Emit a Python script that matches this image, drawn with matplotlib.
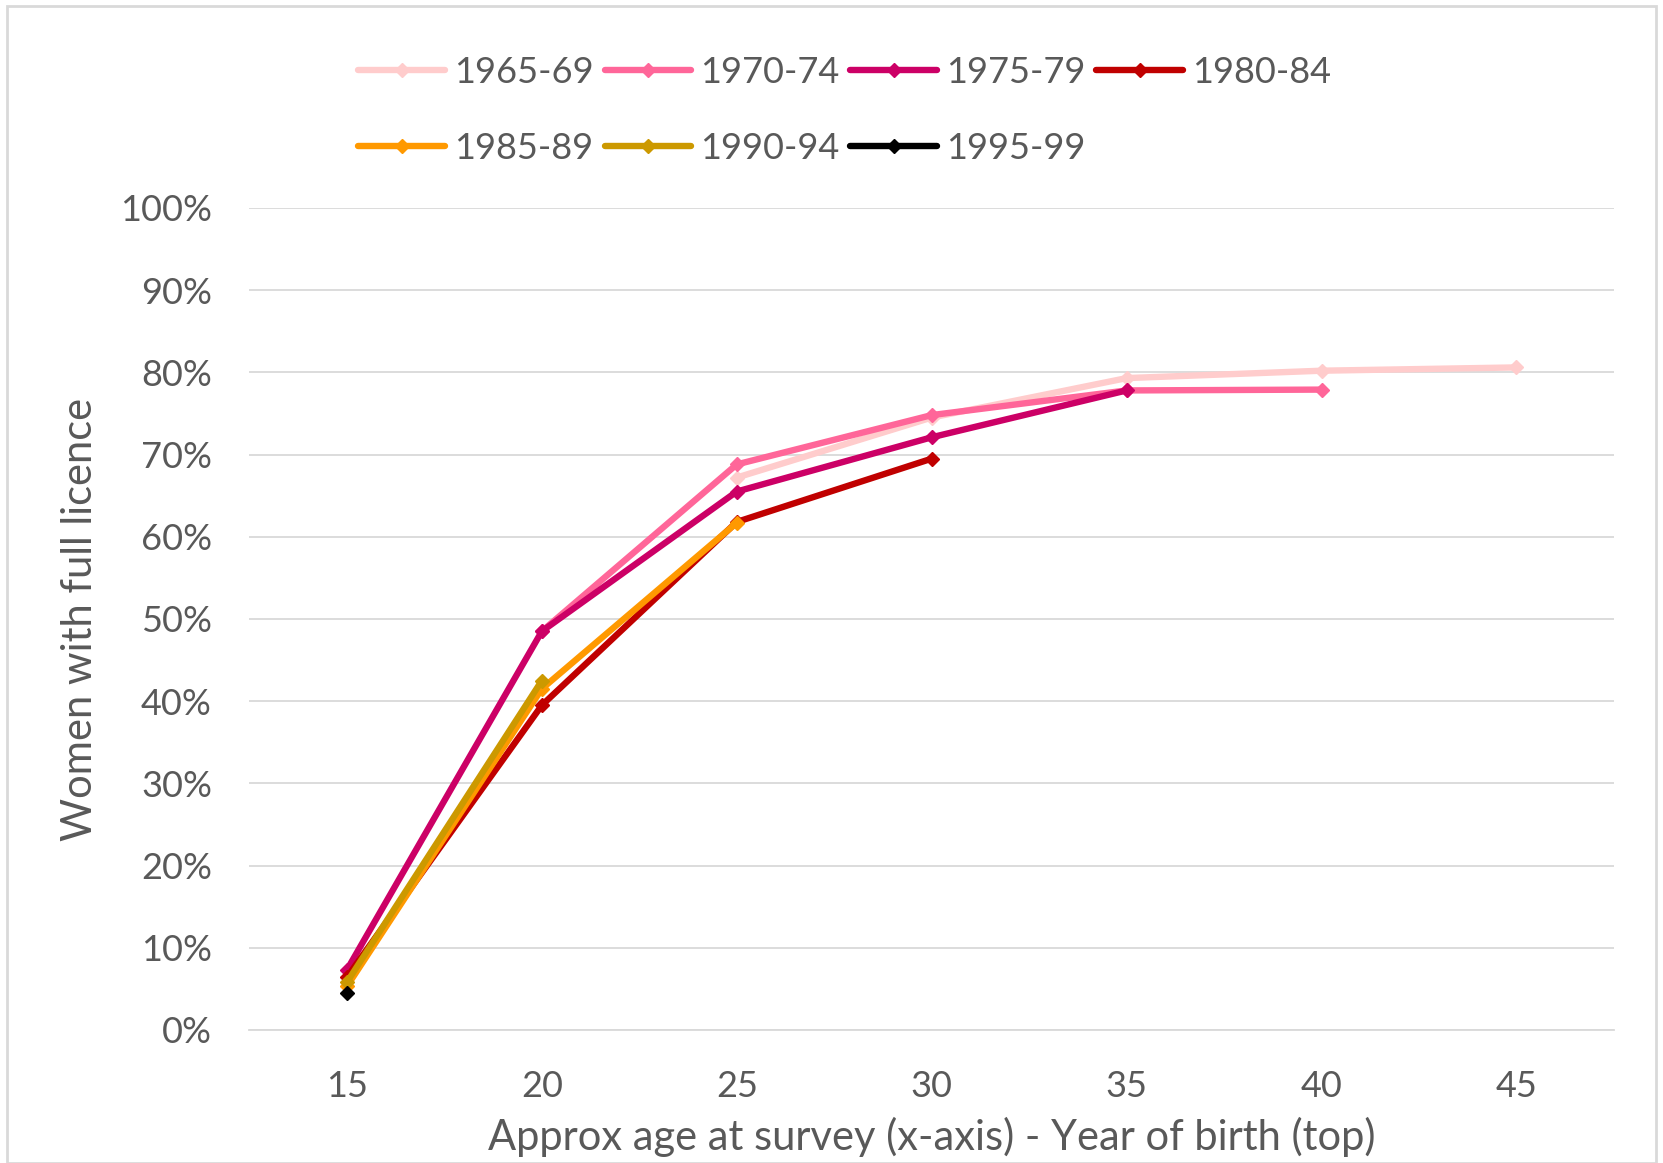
import matplotlib
matplotlib.use("Agg")
import matplotlib.pyplot as plt
from matplotlib.patches import Rectangle

plt.rcParams['font.family'] = ['Lato', 'DejaVu Sans']

ages = [15, 20, 25, 30, 35, 40, 45]

cohorts = ["1965-69", "1970-74", "1975-79", "1980-84", "1985-89", "1990-94", "1995-99"]
colors = ["#FFCCCC", "#FF6699", "#CC0066", "#C00000", "#FF9900", "#CC9900", "#000000"]

# share of women with full licence, by age (None = no survey point)
v_1965 = [None, None, 0.672, 0.745, 0.793, 0.802, 0.806]
v_1970 = [None, 0.485, 0.688, 0.748, 0.778, 0.779, None]
v_1975 = [0.073, 0.485, 0.655, 0.721, 0.778, None, None]
v_1980 = [0.064, 0.395, 0.618, 0.695, None, None, None]
v_1985 = [0.053, 0.415, 0.617, None, None, None, None]
v_1990 = [0.058, 0.425, None, None, None, None, None]
v_1995 = [0.045, None, None, None, None, None, None]

series = [v_1965, v_1970, v_1975, v_1980, v_1985, v_1990, v_1995]

yticks = [i / 10 for i in range(11)]
ytick_labels = ["%d%%" % (i * 10) for i in range(11)]

text_col = "#595959"

fig = plt.figure(figsize=(16.63, 11.63), dpi=100)
ax = fig.add_axes([0.15, 0.1144, 0.8205, 0.7068])

handles = []
for name, col, vals in zip(cohorts, colors, series):
    xs = [a for a, v in zip(ages, vals) if v is not None]
    ys = [v for v in vals if v is not None]
    h, = ax.plot(xs, ys, color=col, lw=4.6, marker="D", ms=7, label=name,
                 solid_capstyle="round", solid_joinstyle="round")
    handles.append(h)

ax.set_xlim(12.5, 47.5)
ax.set_ylim(0, 1.0)
ax.set_xticks(ages)
ax.set_xticklabels([str(a) for a in ages])
ax.set_yticks(yticks)
ax.set_yticklabels(ytick_labels)
ax.grid(axis="y", color="#D9D9D9", lw=1.3)
ax.set_axisbelow(True)
for s in ["top", "right", "left"]:
    ax.spines[s].set_visible(False)
ax.spines["bottom"].set_color("#D9D9D9")
ax.spines["bottom"].set_linewidth(1.3)
ax.tick_params(axis="both", length=0, labelsize=26, colors=text_col)
ax.tick_params(axis="y", pad=27)
ax.tick_params(axis="x", pad=29)

ax.set_ylabel("Women with full licence", fontsize=30, color=text_col, labelpad=15)
ax.set_xlabel("Approx age at survey (x-axis) - Year of birth (top)", fontsize=30,
              color=text_col, labelpad=10)

# legend fills column-wise, reorder so it reads row by row
order = [0, 4, 1, 5, 2, 6, 3]
leg = fig.legend([handles[i] for i in order], [cohorts[i] for i in order],
                 loc="upper left", bbox_to_anchor=(0.196, 0.98), ncol=4,
                 frameon=False, fontsize=26, handlelength=2.4, handletextpad=0.25,
                 columnspacing=0.3, labelspacing=1.2)
for t in leg.get_texts():
    t.set_color(text_col)

fig.patches.append(Rectangle((0.004, 0.0), 0.992, 0.995, transform=fig.transFigure,
                             fill=False, edgecolor="#D9D9D9", lw=2))

fig.savefig("out.png", dpi=100)
